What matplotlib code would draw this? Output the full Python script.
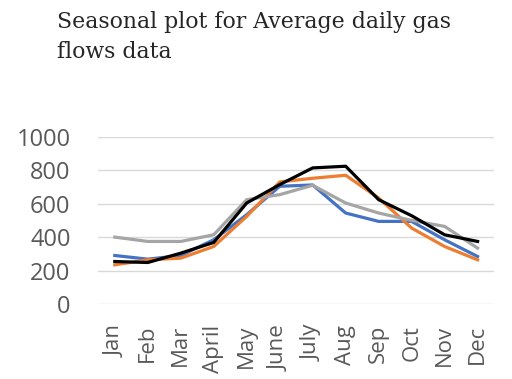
import matplotlib
matplotlib.use('Agg')
import matplotlib.pyplot as plt

months = ['Jan', 'Feb', 'Mar', 'April', 'May', 'June', 'July', 'Aug', 'Sep', 'Oct', 'Nov', 'Dec']
series_blue = [290, 268, 290, 384, 534, 704, 712, 544, 494, 494, 384, 284]
series_orange = [234, 264, 274, 344, 524, 730, 752, 770, 634, 454, 344, 264]
series_gray = [400, 374, 374, 414, 624, 654, 710, 604, 544, 500, 464, 334]
series_black = [254, 248, 304, 368, 604, 714, 814, 824, 624, 528, 414, 374]

fig = plt.figure(figsize=(5.12, 3.79), dpi=100)
ax = fig.add_axes([0.192, 0.198, 0.773, 0.441])

x = range(len(months))
ax.plot(x, series_blue, color='#4472C4', lw=2.3)
ax.plot(x, series_orange, color='#ED7D31', lw=2.3)
ax.plot(x, series_gray, color='#A5A5A5', lw=2.3)
ax.plot(x, series_black, color='#000000', lw=2.3)

ax.set_xlim(-0.5, len(months) - 0.5)
ax.set_ylim(0, 1000)
ax.set_yticks(range(0, 1001, 200))
ax.set_xticks(list(x))
ax.set_xticklabels(months, rotation=90)
for lbl in ax.get_xticklabels() + ax.get_yticklabels():
    lbl.set_fontfamily('Open Sans')
    lbl.set_fontsize(16)
    lbl.set_color('#595959')
for lbl in ax.get_yticklabels():
    lbl.set_fontsize(17)
ax.tick_params(axis='y', length=0, pad=20)
ax.tick_params(axis='x', length=0, pad=15)
ax.grid(axis='y', color='#D9D9D9', lw=1)
ax.set_axisbelow(True)
for s in ax.spines.values():
    s.set_visible(False)

fig.text(0.111, 0.972, 'Seasonal plot for Average daily gas\nflows data',
         family='DejaVu Serif', fontsize=15.8, va='top', ha='left',
         color='#262626', linespacing=1.5)

fig.savefig('out.png', dpi=100)
